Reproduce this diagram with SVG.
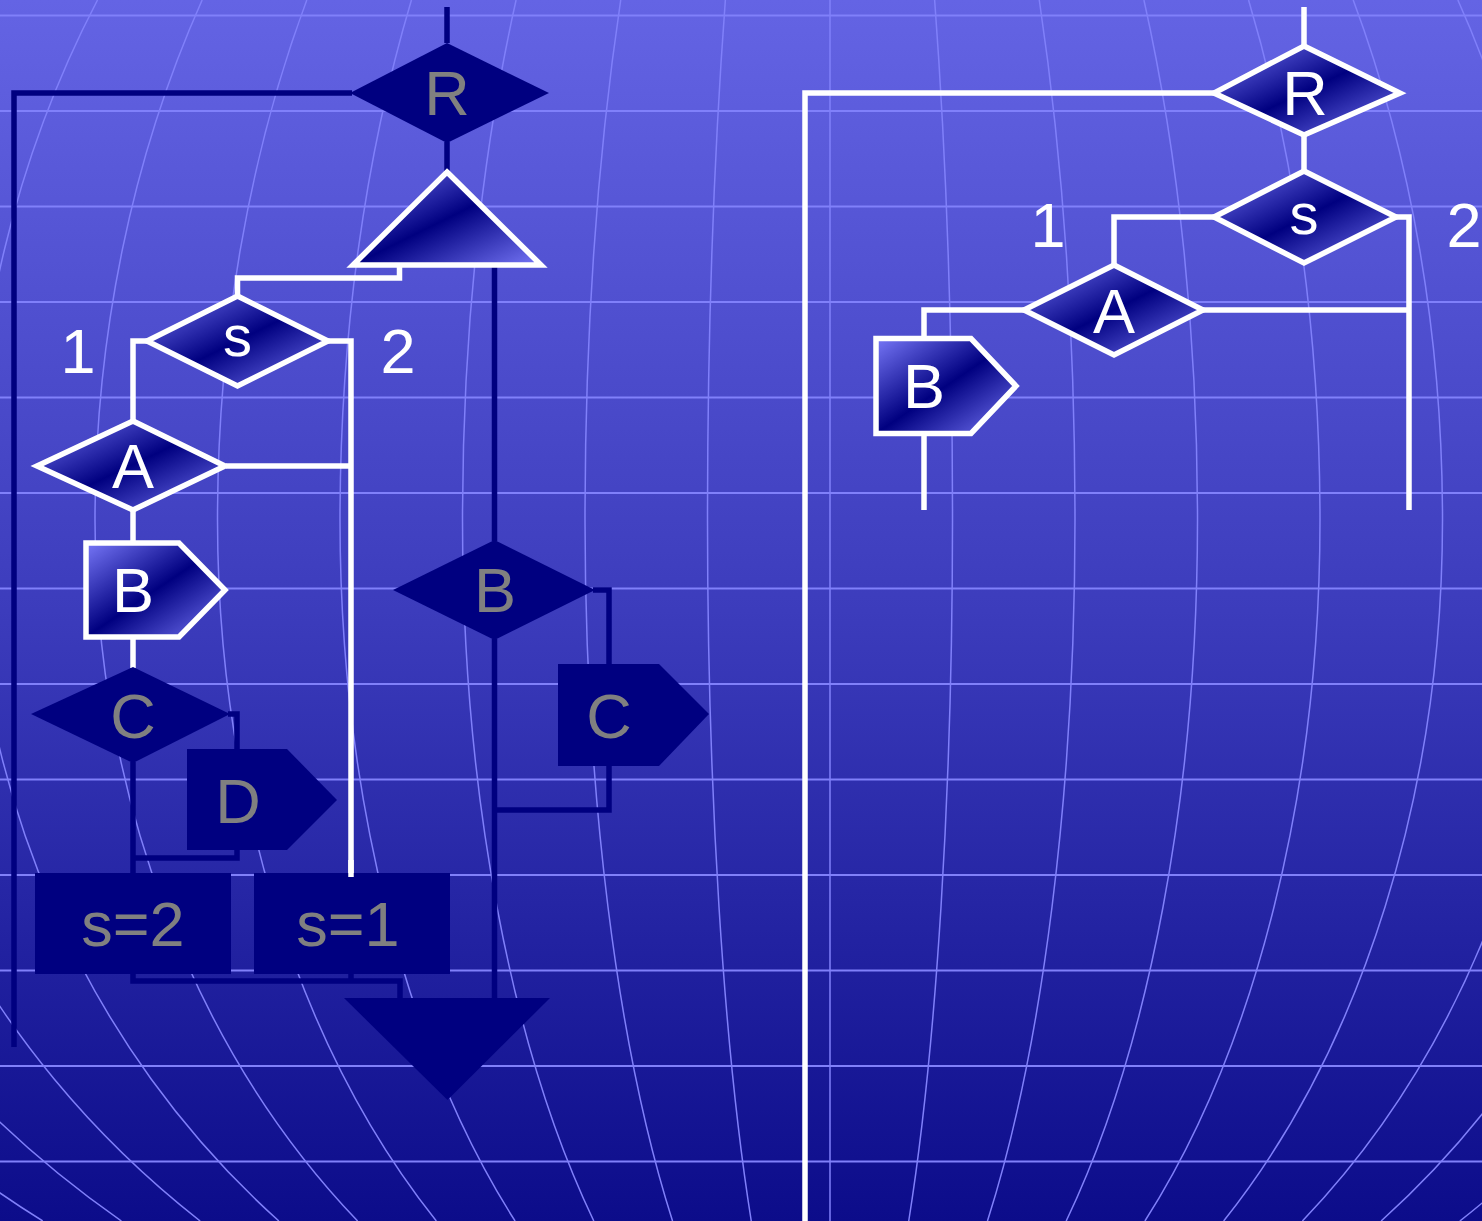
<svg xmlns="http://www.w3.org/2000/svg" width="1482" height="1221" viewBox="0 0 1482 1221">
<defs>
<linearGradient id="bg" x1="0" y1="0" x2="0" y2="1">
<stop offset="0" stop-color="#6464e4"/>
<stop offset="0.5" stop-color="#3c3cbc"/>
<stop offset="1" stop-color="#0c0c8a"/>
</linearGradient>
<linearGradient id="gf" x1="0" y1="0" x2="1" y2="1">
<stop offset="0" stop-color="#7878f8"/>
<stop offset="0.5" stop-color="#000080"/>
<stop offset="1" stop-color="#7878f8"/>
</linearGradient>
<style>
.hl{stroke:#8080fa;stroke-width:2;fill:none}
.ml{stroke:#8080fa;stroke-width:1.5;fill:none}
.dk{fill:#000080;stroke:none}
.wn{fill:url(#gf);stroke:#fff;stroke-width:5.5}
.cw{stroke:#fff;stroke-width:5.5;fill:none}
.cd{stroke:#000080;stroke-width:5.5;fill:none}
text{font-family:"Liberation Sans",Arial,sans-serif;font-size:63px;text-anchor:middle}
.tw{fill:#fff}
.tg{fill:#808080}
</style>
</defs>
<g id="background">
<rect width="1482" height="1221" fill="url(#bg)"/>
<g id="grid-h">
<path class="hl" d="M0 15.5H1482M0 111H1482M0 206.5H1482M0 302H1482M0 397.5H1482M0 493H1482M0 588.5H1482M0 684H1482M0 779.5H1482M0 875H1482M0 970.5H1482M0 1066H1482M0 1161.5H1482"/>
</g>
<g id="grid-m">
<path class="ml" d="M830 0V1221"/>
<path class="ml" d="M934.64 0A122.5 1000 0 0 1 952.5 520A122.5 915 0 0 1 908.73 1221"/>
<path class="ml" d="M1039.28 0A245 1000 0 0 1 1075 520A245 915 0 0 1 987.46 1221"/>
<path class="ml" d="M1143.92 0A367.5 1000 0 0 1 1197.5 520A367.5 915 0 0 1 1066.19 1221"/>
<path class="ml" d="M1248.56 0A490 1000 0 0 1 1320 520A490 915 0 0 1 1144.92 1221"/>
<path class="ml" d="M1353.2 0A612.5 1000 0 0 1 1442.5 520A612.5 915 0 0 1 1223.65 1221"/>
<path class="ml" d="M1457.84 0A735 1000 0 0 1 1565 520A735 915 0 0 1 1302.38 1221"/>
<path class="ml" d="M1562.48 0A857.5 1000 0 0 1 1687.5 520A857.5 915 0 0 1 1381.11 1221"/>
<path class="ml" d="M1667.12 0A980 1000 0 0 1 1810 520A980 915 0 0 1 1459.84 1221"/>
<path class="ml" d="M1771.76 0A1102.5 1000 0 0 1 1932.5 520A1102.5 915 0 0 1 1538.57 1221"/>
<path class="ml" d="M725.36 0A122.5 1000 0 0 0 707.5 520A122.5 915 0 0 0 751.27 1221"/>
<path class="ml" d="M620.72 0A245 1000 0 0 0 585 520A245 915 0 0 0 672.54 1221"/>
<path class="ml" d="M516.08 0A367.5 1000 0 0 0 462.5 520A367.5 915 0 0 0 593.81 1221"/>
<path class="ml" d="M411.44 0A490 1000 0 0 0 340 520A490 915 0 0 0 515.08 1221"/>
<path class="ml" d="M306.8 0A612.5 1000 0 0 0 217.5 520A612.5 915 0 0 0 436.35 1221"/>
<path class="ml" d="M202.16 0A735 1000 0 0 0 95 520A735 915 0 0 0 357.62 1221"/>
<path class="ml" d="M97.52 0A857.5 1000 0 0 0 -27.5 520A857.5 915 0 0 0 278.89 1221"/>
<path class="ml" d="M-7.12 0A980 1000 0 0 0 -150 520A980 915 0 0 0 200.16 1221"/>
<path class="ml" d="M-111.76 0A1102.5 1000 0 0 0 -272.5 520A1102.5 915 0 0 0 121.43 1221"/>
<path class="ml" d="M-216.4 0A1225 1000 0 0 0 -395 520A1225 915 0 0 0 42.7 1221"/>
</g>
</g>
<g id="connectors">
<path class="cd" d="M447 7V43"/>
<path class="cd" d="M352 93H14V1047"/>
<path class="cd" d="M447 142V172"/>
<path class="cd" d="M494.5 263V541"/>
<path class="cd" d="M494.5 639V998"/>
<path class="cd" d="M593 590H609V665"/>
<path class="cd" d="M609 765V810H494.5"/>
<path class="cd" d="M228 714H237V750"/>
<path class="cd" d="M237 849V858H133"/>
<path class="cd" d="M133 762V874"/>
<path class="cd" d="M133 973V981H400V998"/>
<path class="cd" d="M351 973V981"/>
<path class="cw" d="M399.5 265V278H237.5V295"/>
<path class="cw" d="M147 341H133V420"/>
<path class="cw" d="M328 341H351V877"/>
<path class="cw" d="M226 466H351"/>
<path class="cw" d="M133 510V543"/>
<path class="cw" d="M133 637V668"/>
<path class="cw" d="M1304 7V46"/>
<path class="cw" d="M1214 93H805V1221"/>
<path class="cw" d="M1304 135V171"/>
<path class="cw" d="M1214 217H1114V265"/>
<path class="cw" d="M1396 217H1409V510"/>
<path class="cw" d="M1203 310H1409"/>
<path class="cw" d="M1024 310H924V338"/>
<path class="cw" d="M924 433V510"/>
</g>
<g id="node-R-left">
<polygon class="dk" points="447,43 549,93 447,143 350,93"/>
<text class="tg" x="447" y="115">R</text>
</g>
<g id="node-triangle-up">
<polygon class="wn" points="447,172 541,265 353,265"/>
</g>
<g id="node-s-left">
<polygon class="wn" points="237.5,296 328,341 237.5,386 147,341"/>
<text class="tw" x="237.5" y="356" style="font-size:58px">s</text>
</g>
<g id="label-1-left"><text class="tw" x="78" y="373">1</text></g>
<g id="label-2-left"><text class="tw" x="398" y="373">2</text></g>
<g id="node-A-left">
<polygon class="wn" points="133,421 225,466 133,510 37,466"/>
<text class="tw" x="133" y="488">A</text>
</g>
<g id="node-B-left">
<polygon class="wn" points="86,543 179,543 225,590 179,637 86,637"/>
<text class="tw" x="133" y="612">B</text>
</g>
<g id="node-C-left">
<polygon class="dk" points="133,667 230,714 133,763 31,714"/>
<text class="tg" x="133" y="738">C</text>
</g>
<g id="node-D">
<polygon class="dk" points="187,749 287,749 337,800 287,850 187,850"/>
<text class="tg" x="238" y="823">D</text>
</g>
<g id="node-B-mid">
<polygon class="dk" points="494.5,540 595,590 494.5,640 393,590"/>
<text class="tg" x="495" y="612">B</text>
</g>
<g id="node-C-mid">
<polygon class="dk" points="558,664 659,664 709,714 659,766 558,766"/>
<text class="tg" x="609" y="738">C</text>
</g>
<g id="node-s2">
<rect class="dk" x="35" y="873" width="196" height="101"/>
<text class="tg" x="133" y="946">s=2</text>
</g>
<g id="node-s1">
<rect class="dk" x="254" y="873" width="196" height="101"/>
<text class="tg" x="348" y="946">s=1</text>
</g>
<path class="cw" d="M351 860V877"/>
<g id="node-triangle-down">
<polygon class="dk" points="344,998 550,998 447.5,1100"/>
</g>
<g id="node-R-right">
<polygon class="wn" points="1304,46 1400,93 1304,135 1214,93"/>
<text class="tw" x="1305" y="115">R</text>
</g>
<g id="node-s-right">
<polygon class="wn" points="1304,171 1396,217 1304,263 1214,217"/>
<text class="tw" x="1304" y="234" style="font-size:58px">s</text>
</g>
<g id="label-1-right"><text class="tw" x="1048" y="247">1</text></g>
<g id="label-2-right"><text class="tw" x="1464" y="247">2</text></g>
<g id="node-A-right">
<polygon class="wn" points="1114,265 1203,310 1114,355 1024,310"/>
<text class="tw" x="1114" y="333">A</text>
</g>
<g id="node-B-right">
<polygon class="wn" points="876,338.5 971,338.5 1016,386 971,433.5 876,433.5"/>
<text class="tw" x="924" y="408">B</text>
</g>
</svg>
